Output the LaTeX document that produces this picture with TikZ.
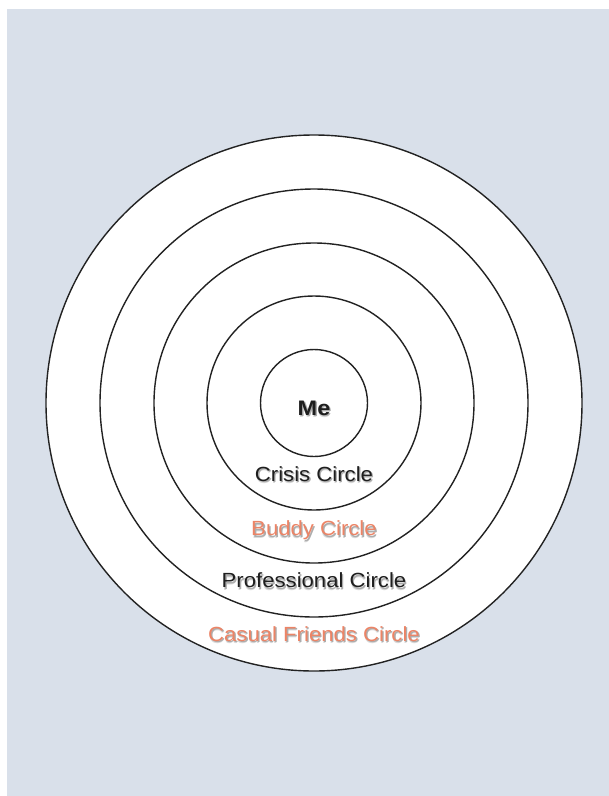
\documentclass[tikz,border=0pt]{standalone}
\usepackage{fontspec}
\usepackage{graphicx}
\setmainfont{Liberation Sans}
\definecolor{bgblue}{HTML}{D9E0EA}
\definecolor{ringline}{HTML}{222222}
\definecolor{salmon}{HTML}{EC8466}
\definecolor{txtdark}{HTML}{1E1E1E}
% text with a soft drop shadow, set inside one box
\newcommand{\shadowed}[2]{%
  \makebox[0pt][l]{\hspace{0.6pt}\raisebox{-2.6pt}{\textcolor{black!14}{#2}}}%
  \makebox[0pt][l]{\hspace{1.2pt}\raisebox{-1.8pt}{\textcolor{black!32}{#2}}}%
  \textcolor{#1}{#2}}
\begin{document}
\begin{tikzpicture}[x=1pt,y=-1pt,
  ring/.style={draw=ringline,line width=1.4pt,fill=white},
  labeltext/.style={anchor=base,inner sep=0pt,font=\fontsize{20.5}{24}\selectfont},
  metext/.style={labeltext,font=\fontsize{21}{24}\selectfont\bfseries}]
  \useasboundingbox (0,0) rectangle (609,796);
  \fill[white] (0,0) rectangle (609,796);
  \fill[bgblue] (7,9) rectangle (609,796);
  \coordinate (c) at (314,403);
  \draw[ring] (c) circle[radius=268];
  \draw[ring] (c) circle[radius=214];
  \draw[ring] (c) circle[radius=160];
  \draw[ring] (c) circle[radius=107];
  \draw[ring] (c) circle[radius=53.5];
  \node[metext] (me) at (314,415) {\scalebox{1.12}[1]{\shadowed{txtdark}{Me}}};
  \node[labeltext] (crisis) at (314,481) {\scalebox{1.08}[1]{\shadowed{txtdark}{Crisis Circle}}};
  \node[labeltext] (buddy) at (314,535.5) {\scalebox{1.08}[1]{\shadowed{salmon}{Buddy Circle}}};
  \node[labeltext] (prof) at (314,587.5) {\scalebox{1.08}[1]{\shadowed{txtdark}{Professional Circle}}};
  \node[labeltext] (casual) at (314,641) {\scalebox{1.08}[1]{\shadowed{salmon}{Casual Friends Circle}}};
\end{tikzpicture}
\end{document}
